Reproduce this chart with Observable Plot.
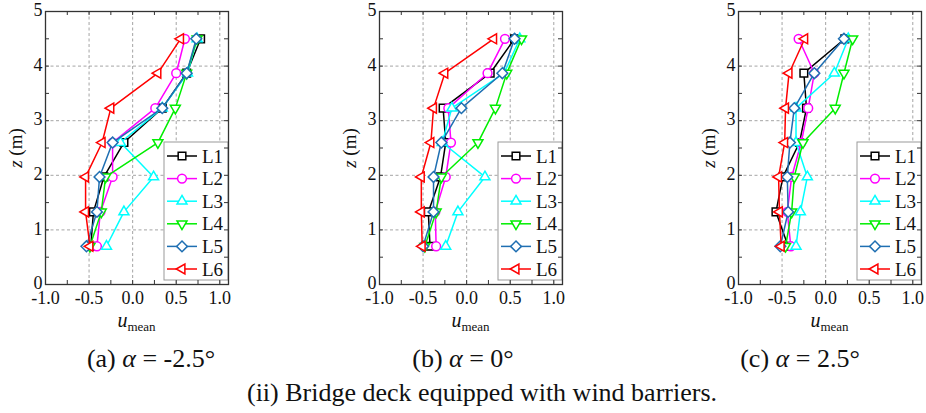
<!DOCTYPE html>
<html>
<head>
<meta charset="utf-8">
<script src="https://cdn.jsdelivr.net/npm/d3@7"></script>
<script src="https://cdn.jsdelivr.net/npm/@observablehq/plot@0.6"></script>
<style>
  body { margin: 0; background: #fff; font-family: "Liberation Serif", "Times New Roman", serif; color: #111; }
  #root { position: relative; width: 926px; height: 413px; overflow: hidden; }
  .panel { position: absolute; top: 0; }
  .panel svg, .panel svg text { font-family: "Liberation Serif", "Times New Roman", serif !important; }
  .cap { position: absolute; white-space: nowrap; transform: translateX(-50%); font-size: 26px; line-height: 26px; }
  .xlab { position: absolute; white-space: nowrap; transform: translateX(-50%); line-height: 20px; }
  .ylab { position: absolute; white-space: nowrap; transform: translate(-50%, -50%) rotate(-90deg); font-size: 19px; line-height: 19px; }
</style>
</head>
<body>
<div id="root"></div>
<script>
// ---- data ----
const series = ["L1", "L2", "L3", "L4", "L5", "L6"];
const zLevels = [0.7, 1.33, 1.97, 2.6, 3.23, 3.87, 4.5];
const seriesColors = ["#000000", "#ff00ff", "#00ffff", "#00ee00", "#1f6fb2", "#ff0000"];
// u_mean values per series (rows L1..L6), at zLevels (bottom to top)
const uAlphaMinus25 = [
  [-0.48, -0.45, -0.33, -0.10, 0.34, 0.62, 0.78],
  [-0.41, -0.37, -0.23, -0.23, 0.26, 0.50, 0.60],
  [-0.30, -0.10, 0.24, -0.14, 0.34, 0.63, 0.74],
  [-0.49, -0.36, -0.31, 0.29, 0.49, 0.62, 0.74],
  [-0.53, -0.41, -0.38, -0.23, 0.34, 0.62, 0.73],
  [-0.49, -0.54, -0.54, -0.35, -0.25, 0.29, 0.55]
];
const uAlpha0 = [
  [-0.42, -0.44, -0.30, -0.24, -0.27, 0.27, 0.55],
  [-0.35, -0.36, -0.24, -0.18, -0.21, 0.24, 0.44],
  [-0.24, -0.10, 0.21, -0.28, -0.17, 0.43, 0.61],
  [-0.48, -0.35, -0.29, 0.13, 0.33, 0.46, 0.63],
  [-0.50, -0.38, -0.38, -0.29, -0.06, 0.41, 0.55],
  [-0.51, -0.52, -0.52, -0.41, -0.38, -0.25, 0.31]
];
const uAlphaPlus25 = [
  [-0.43, -0.57, -0.49, -0.30, -0.22, -0.25, 0.22],
  [-0.40, -0.44, -0.39, -0.28, -0.20, -0.13, -0.31],
  [-0.34, -0.29, -0.21, -0.34, -0.34, 0.10, 0.26],
  [-0.46, -0.39, -0.36, -0.26, 0.11, 0.21, 0.31],
  [-0.52, -0.43, -0.44, -0.41, -0.36, -0.13, 0.21],
  [-0.51, -0.53, -0.54, -0.47, -0.46, -0.42, -0.24]
];
const xTickLabels = [-1.0, -0.5, 0.0, 0.5, 1.0];
const xMinorTicks = [-1.0, -0.75, -0.5, -0.25, 0, 0.25, 0.5, 0.75, 1.0];
const yTickLabels = [0, 1, 2, 3, 4, 5];
const yMinorTicks = [0.5, 1, 1.5, 2, 2.5, 3, 3.5, 4, 4.5];
const xGridValues = [-0.5, 0, 0.5, 1.0];
const yGridValues = [1, 2, 3, 4];
const panelCaptions = ["(a) <i>α</i> = -2.5°", "(b) <i>α</i> = 0°", "(c) <i>α</i> = 2.5°"];
const mainCaption = "(ii) Bridge deck equipped with wind barriers.";

// ---- symbols (hollow) ----
const R = (size) => Math.sqrt(size / Math.PI);
const symSquare = { draw(c, s) { const h = R(s) * 0.85; c.rect(-h, -h, 2 * h, 2 * h); } };
const symCircle = { draw(c, s) { const r = R(s) * 0.98; c.moveTo(r, 0); c.arc(0, 0, r, 0, 2 * Math.PI); c.closePath(); } };
function tri(angle) {
  return { draw(c, s) {
    const r = R(s) * 1.28;
    for (let k = 0; k < 3; k++) {
      const a = angle + k * 2 * Math.PI / 3;
      const x = r * Math.cos(a), y = r * Math.sin(a);
      if (k === 0) c.moveTo(x, y); else c.lineTo(x, y);
    }
    c.closePath();
  } };
}
const symTriUp = tri(-Math.PI / 2);
const symTriDown = tri(Math.PI / 2);
const symTriLeft = tri(Math.PI);
const symDiamond = { draw(c, s) { const r = R(s) * 1.2; c.moveTo(0, -r); c.lineTo(r, 0); c.lineTo(0, r); c.lineTo(-r, 0); c.closePath(); } };
const seriesSymbols = [symSquare, symCircle, symTriUp, symTriDown, symDiamond, symTriLeft];

// ---- layout ----
const W = 232, H = 314, mT = 11, mB = 30, mL = 45, mR = 4;
const pw = W - mL - mR, ph = H - mT - mB;
const panelLefts = [0, 334, 693];
const panelValues = [uAlphaMinus25, uAlpha0, uAlphaPlus25];
const captionCenters = [151, 463, 800];
const root = document.getElementById("root");
const font = "Liberation Serif";
const mr = 4.5;

panelValues.forEach((values, p) => {
  const data = [];
  series.forEach((s, i) => zLevels.forEach((z, j) => data.push({ s, i, u: values[i][j], z })));
  const marks = [
    Plot.gridX(xGridValues, { stroke: "#9a9a9a", strokeOpacity: 1, strokeWidth: 0.9, strokeDasharray: "3,2.5" }),
    Plot.gridY(yGridValues, { stroke: "#9a9a9a", strokeOpacity: 1, strokeWidth: 0.9, strokeDasharray: "3,2.5" })
  ];
  series.forEach((s, i) => {
    const d = data.filter((r) => r.s === s);
    marks.push(Plot.line(d, { x: "u", y: "z", stroke: seriesColors[i], strokeWidth: 1.5 }));
    marks.push(Plot.dot(d, { x: "u", y: "z", symbol: () => seriesSymbols[i], r: mr, stroke: seriesColors[i], fill: "white", strokeWidth: 1.5 }));
  });
  marks.push(
    Plot.tickX(xMinorTicks, { x: (d) => d, insetTop: ph - 4, stroke: "#333" }),
    Plot.tickX(xMinorTicks, { x: (d) => d, insetBottom: ph - 4, stroke: "#333" }),
    Plot.tickY(yMinorTicks, { y: (d) => d, insetRight: pw - 4, stroke: "#333" }),
    Plot.tickY(yMinorTicks, { y: (d) => d, insetLeft: pw - 4, stroke: "#333" }),
    Plot.frame({ stroke: "#333", strokeWidth: 1.3 }),
    Plot.axisX(xTickLabels, { tickSize: 0, tickPadding: 7, tickFormat: (d) => d.toFixed(1), fontSize: 18, fill: "#111", fontFamily: font }),
    Plot.axisY(yTickLabels, { tickSize: 0, tickPadding: 3, dy: -1, tickFormat: (d) => String(d), fontSize: 18, fill: "#111", fontFamily: font })
  );
  const chart = Plot.plot({
    width: W, height: H, marginTop: mT, marginBottom: mB, marginLeft: mL, marginRight: mR,
    x: { domain: [-1.0, 1.1], label: null },
    y: { domain: [0, 5], label: null },
    symbol: { type: "identity" },
    style: { background: "transparent", color: "#111", overflow: "visible" },
    marks
  });
  const wrap = document.createElement("div");
  wrap.className = "panel";
  wrap.style.left = panelLefts[p] + "px";
  wrap.appendChild(chart);
  root.appendChild(wrap);

  // legend (inserted beneath the ticks and frame)
  const svg = d3.select(chart);
  const before = chart.querySelector('[aria-label="tick"]');
  const g = svg.insert("g", () => before).attr("text-anchor", "start");
  const lw = 64, lh = 138;
  const lx = mL + pw - lw, ly = mT + 131;
  g.append("rect").attr("x", lx).attr("y", ly).attr("width", lw).attr("height", lh)
    .attr("fill", "white").attr("stroke", "#9a9a9a").attr("stroke-width", 1);
  series.forEach((s, i) => {
    const yy = ly + 14 + i * 22.6;
    g.append("line").attr("x1", lx + 3).attr("x2", lx + 33).attr("y1", yy).attr("y2", yy)
      .attr("stroke", seriesColors[i]).attr("stroke-width", 1.5);
    g.append("path").attr("d", d3.symbol(seriesSymbols[i], mr * mr * Math.PI)())
      .attr("transform", `translate(${lx + 18},${yy})`)
      .attr("fill", "white").attr("stroke", seriesColors[i]).attr("stroke-width", 1.5);
    g.append("text").attr("x", lx + 38).attr("y", yy).attr("dy", "0.35em")
      .attr("text-anchor", "start")
      .attr("font-size", 19).attr("font-family", font).attr("fill", "#111").text(s);
  });

  // axis titles
  const frameLeft = panelLefts[p] + mL;
  const xl = document.createElement("div");
  xl.className = "xlab";
  xl.style.left = (frameLeft + pw / 2) + "px";
  xl.style.top = "310px";
  xl.innerHTML = '<span style="font-style:italic;font-size:20px">u</span><span style="font-size:13px;position:relative;top:4px">mean</span>';
  root.appendChild(xl);
  const yl = document.createElement("div");
  yl.className = "ylab";
  yl.style.left = (frameLeft - 30) + "px";
  yl.style.top = (mT + ph / 2) + "px";
  yl.innerHTML = '<i>z</i> (m)';
  root.appendChild(yl);

  const cap = document.createElement("div");
  cap.className = "cap";
  cap.style.left = captionCenters[p] + "px";
  cap.style.top = "346px";
  cap.innerHTML = panelCaptions[p];
  root.appendChild(cap);
});

const mc = document.createElement("div");
mc.className = "cap";
mc.style.left = "482px";
mc.style.top = "380px";
mc.textContent = mainCaption;
root.appendChild(mc);
</script>
</body>
</html>
